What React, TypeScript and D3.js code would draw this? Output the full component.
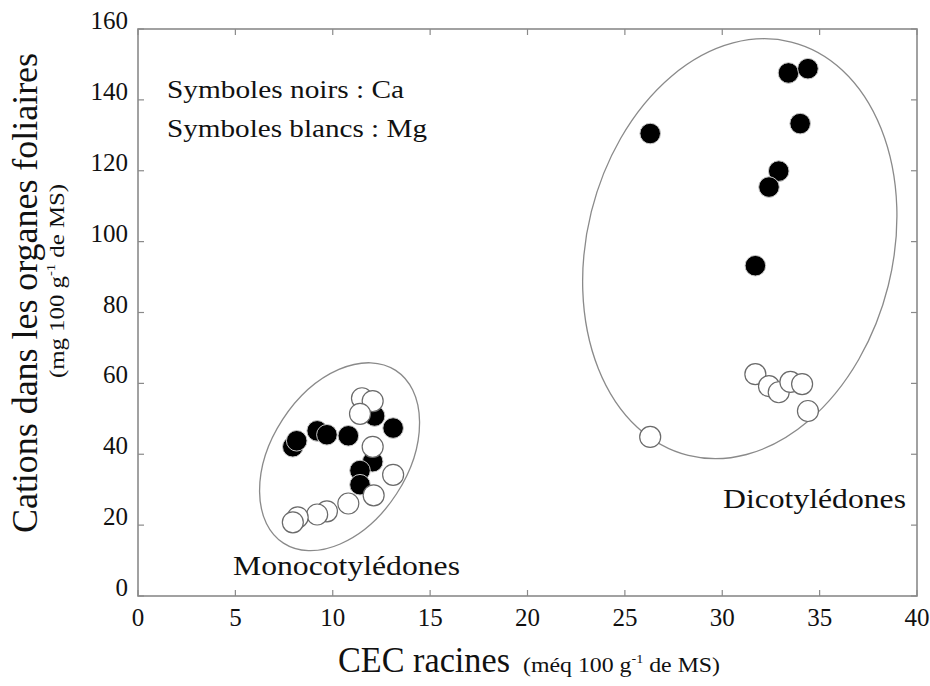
import React from "react";
import * as d3 from "d3";

// Dicotylédones
const dicotCaX = [26.3, 33.4, 34.4, 34.0, 32.9, 32.4, 31.7];
const dicotCaY = [130.5, 147.6, 148.8, 133.3, 119.9, 115.4, 93.2];
const dicotMgX = [31.7, 32.4, 32.9, 33.5, 34.1, 34.4, 26.3];
const dicotMgY = [62.6, 59.2, 57.5, 60.4, 59.8, 52.2, 44.9];

// Monocotylédones
const monoCaX = [7.95, 8.15, 9.2, 9.7, 10.8, 13.1, 12.15, 12.05, 11.4, 11.4];
const monoCaY = [42.1, 43.8, 46.6, 45.5, 45.2, 47.4, 50.8, 37.9, 35.4, 31.4];
const monoMgX = [11.5, 12.05, 11.4, 12.05, 13.1, 12.1, 10.8, 9.7, 9.2, 8.2, 7.95];
const monoMgY = [55.8, 55.0, 51.4, 42.1, 34.2, 28.4, 26.1, 23.9, 23.0, 22.2, 20.8];

const xTicks = [0, 5, 10, 15, 20, 25, 30, 35, 40];
const yTicks = [0, 20, 40, 60, 80, 100, 120, 140, 160];

const legendLines = ["Symboles noirs : Ca", "Symboles blancs : Mg"];
const groupLabels = ["Monocotylédones", "Dicotylédones"];

// group envelopes (centre in data units)
const ellipseCx = [10.35, 30.9];
const ellipseCy = [39.3, 98.0];

const FONT = "Liberation Serif, DejaVu Serif, serif";
const TS: React.CSSProperties = { fontFamily: FONT };

export default function App() {
  const W = 930, H = 686;
  const x = d3.scaleLinear().domain([0, 40]).range([138, 917]);
  const y = d3.scaleLinear().domain([0, 160]).range([596, 29]);
  const [x0, x1] = x.range();
  const [y0, y1] = y.range();

  const ca = [...d3.zip(monoCaX, monoCaY), ...d3.zip(dicotCaX, dicotCaY)];
  const mg = [...d3.zip(monoMgX, monoMgY), ...d3.zip(dicotMgX, dicotMgY)];

  const ellipseSize = [
    { rx: 68, ry: 103, rot: 33 },
    { rx: 153, ry: 213, rot: 14 },
  ];

  const grey = "#8a8a8a";
  const tick = 6;

  return (
    <svg width={W} height={H} style={{ position: "absolute", left: 0, top: 0, background: "#fff" }}>
      <rect x={0} y={0} width={W} height={H} fill="#fff" />
      {ellipseCx.map((cx, i) => (
        <ellipse
          key={"e" + i}
          cx={0}
          cy={0}
          rx={ellipseSize[i].rx}
          ry={ellipseSize[i].ry}
          transform={`translate(${x(cx)},${y(ellipseCy[i])}) rotate(${ellipseSize[i].rot})`}
          fill="none"
          stroke={grey}
          strokeWidth={1.3}
        />
      ))}
      <rect x={x0} y={y1} width={x1 - x0} height={y0 - y1} fill="none" stroke={grey} strokeWidth={1.6} />
      {xTicks.map((t) => (
        <g key={"xt" + t}>
          <line x1={x(t)} x2={x(t)} y1={y0} y2={y0 - tick} stroke={grey} strokeWidth={1.2} />
          <line x1={x(t)} x2={x(t)} y1={y1} y2={y1 + tick} stroke={grey} strokeWidth={1.2} />
          <text x={x(t)} y={626} textAnchor="middle" fontSize={25} fill="#111" style={TS}>{t}</text>
        </g>
      ))}
      {yTicks.map((t) => (
        <g key={"yt" + t}>
          <line x1={x0} x2={x0 + tick} y1={y(t)} y2={y(t)} stroke={grey} strokeWidth={1.2} />
          <line x1={x1} x2={x1 - tick} y1={y(t)} y2={y(t)} stroke={grey} strokeWidth={1.2} />
          <text x={128} y={y(t)} textAnchor="end" fontSize={25} fill="#111" style={TS}>{t}</text>
        </g>
      ))}
      {ca.map(([a, b], i) => (
        <circle key={"ca" + i} cx={x(a)} cy={y(b)} r={10.3} fill="#000" stroke="#c8c8c8" strokeWidth={1} />
      ))}
      {mg.map(([a, b], i) => (
        <circle key={"mg" + i} cx={x(a)} cy={y(b)} r={10.5} fill="#fff" stroke="#6a6a6a" strokeWidth={1.2} />
      ))}
      <text x={167} y={98} fontSize={26} fill="#111" style={TS} textLength={237} lengthAdjust="spacingAndGlyphs">{legendLines[0]}</text>
      <text x={167} y={137} fontSize={26} fill="#111" style={TS} textLength={260} lengthAdjust="spacingAndGlyphs">{legendLines[1]}</text>
      <text x={233} y={575} fontSize={27} fill="#111" style={TS} textLength={227} lengthAdjust="spacingAndGlyphs">{groupLabels[0]}</text>
      <text x={723} y={508} fontSize={27} fill="#111" style={TS} textLength={183} lengthAdjust="spacingAndGlyphs">{groupLabels[1]}</text>
      <text x={338} y={672} fontSize={35} fill="#111" style={TS} textLength={172} lengthAdjust="spacingAndGlyphs">CEC racines</text>
      <text x={523} y={672} fontSize={22} fill="#111" style={TS} textLength={197} lengthAdjust="spacingAndGlyphs">
        (méq 100 g<tspan fontSize={13} dy={-9}>-1</tspan><tspan dy={9}> de MS)</tspan>
      </text>
      <text transform="translate(37,533) rotate(-90)" fontSize={35} fill="#111" style={TS} textLength={480} lengthAdjust="spacingAndGlyphs">
        Cations dans les organes foliaires
      </text>
      <text transform="translate(64,378) rotate(-90)" fontSize={22} fill="#111" style={TS} textLength={194} lengthAdjust="spacingAndGlyphs">
        (mg 100 g<tspan fontSize={13} dy={-9}>-1</tspan><tspan dy={9}> de MS)</tspan>
      </text>
    </svg>
  );
}
